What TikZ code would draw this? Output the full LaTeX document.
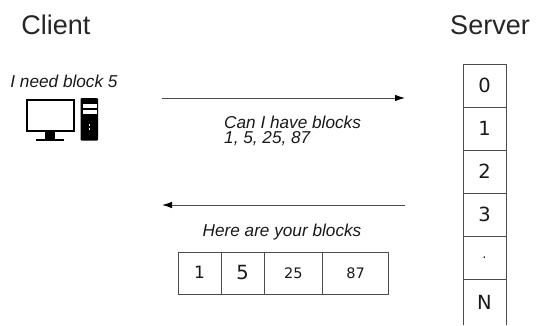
\documentclass[tikz,border=0pt]{standalone}
\usepackage{fontspec}
\setmainfont{Liberation Sans}
\newfontfamily\cellfont{DejaVu Sans}
\usetikzlibrary{arrows.meta}
\tikzset{
  cellbox/.style={draw=black!70,line width=0.8pt,inner sep=0pt,outer sep=0pt,font=\cellfont\fontsize{19.5}{22}\selectfont,text=black!90},
  srv/.style={cellbox,minimum width=43pt,minimum height=43pt,anchor=north west},
  blk/.style={cellbox,minimum height=42pt,anchor=north west},
  title/.style={font=\fontsize{27}{30}\selectfont,text=black!85,inner sep=0pt},
  note/.style={font=\itshape\fontsize{17.2}{15.5}\selectfont,text=black!90,inner sep=0pt,align=left},
  msg/.style={draw=black!70,line width=0.9pt,-{Latex[length=10pt,width=6.5pt,black]}},
}
\begin{document}
\begin{tikzpicture}[x=1pt,y=-1pt]
\useasboundingbox (0,0) rectangle (537,325);
\node[title] (client) at (56,25) {Client};
\node[title] (server) at (490,25) {Server};
\node[note] (need) at (64,81) {I need block 5};
% computer
\draw[black,line width=1.5pt,fill=white] (27,100) rectangle (74,131);
\fill[black] (45,132) rectangle (55,139);
\fill[black] (36,139) rectangle (64,141);
\fill[black,rounded corners=1pt] (80.5,98) rectangle (98,140.5);
\fill[white] (83,104) rectangle (97,108);
\fill[white] (83,110) rectangle (97,113.5);
\fill[white] (88.5,124) rectangle (90,126);
\fill[white] (88.5,128) rectangle (90,130);
% server column
\node[srv,text depth=2pt] (s0) at (463,64.5) {0};
\node[srv,text depth=2pt] (s1) at (463,107.5) {1};
\node[srv,text depth=2pt] (s2) at (463,150.5) {2};
\node[srv,text depth=2pt] (s3) at (463,193.5) {3};
\node[srv,font=\cellfont\fontsize{13}{15}\selectfont] (s4) at (463,236.5) {.};
\draw[draw=black!70,line width=0.8pt] (463,325) -- (463,279.5) -- (506,279.5) -- (506,325);
\node[font=\cellfont\fontsize{19.5}{22}\selectfont,text=black!90,inner sep=0pt] (sn) at (484.5,302.5) {N};
% arrows
\coordinate (a1s) at (162,98);
\coordinate (a1e) at (405,98);
\coordinate (a2s) at (405,205);
\coordinate (a2e) at (162,205);
\draw[msg] (a1s) -- (a1e);
\draw[msg] (a2s) -- (a2e);
\node[note,anchor=north west] (ask) at (224,115.5) {Can I have blocks\\1, 5, 25, 87};
\node[note] (here) at (282,232) {Here are your blocks};
% blocks
\node[blk,minimum width=43pt,font=\cellfont\fontsize{17}{20}\selectfont,text depth=2pt] (b1) at (178,252) {1};
\node[blk,minimum width=43pt,text depth=2pt] (b5) at (221,252) {5};
\node[blk,minimum width=58.5pt,font=\cellfont\fontsize{14.5}{17}\selectfont] (b25) at (264,252) {25};
\node[blk,minimum width=66pt,font=\cellfont\fontsize{14.5}{17}\selectfont] (b87) at (322.5,252) {87};
\end{tikzpicture}
\end{document}
